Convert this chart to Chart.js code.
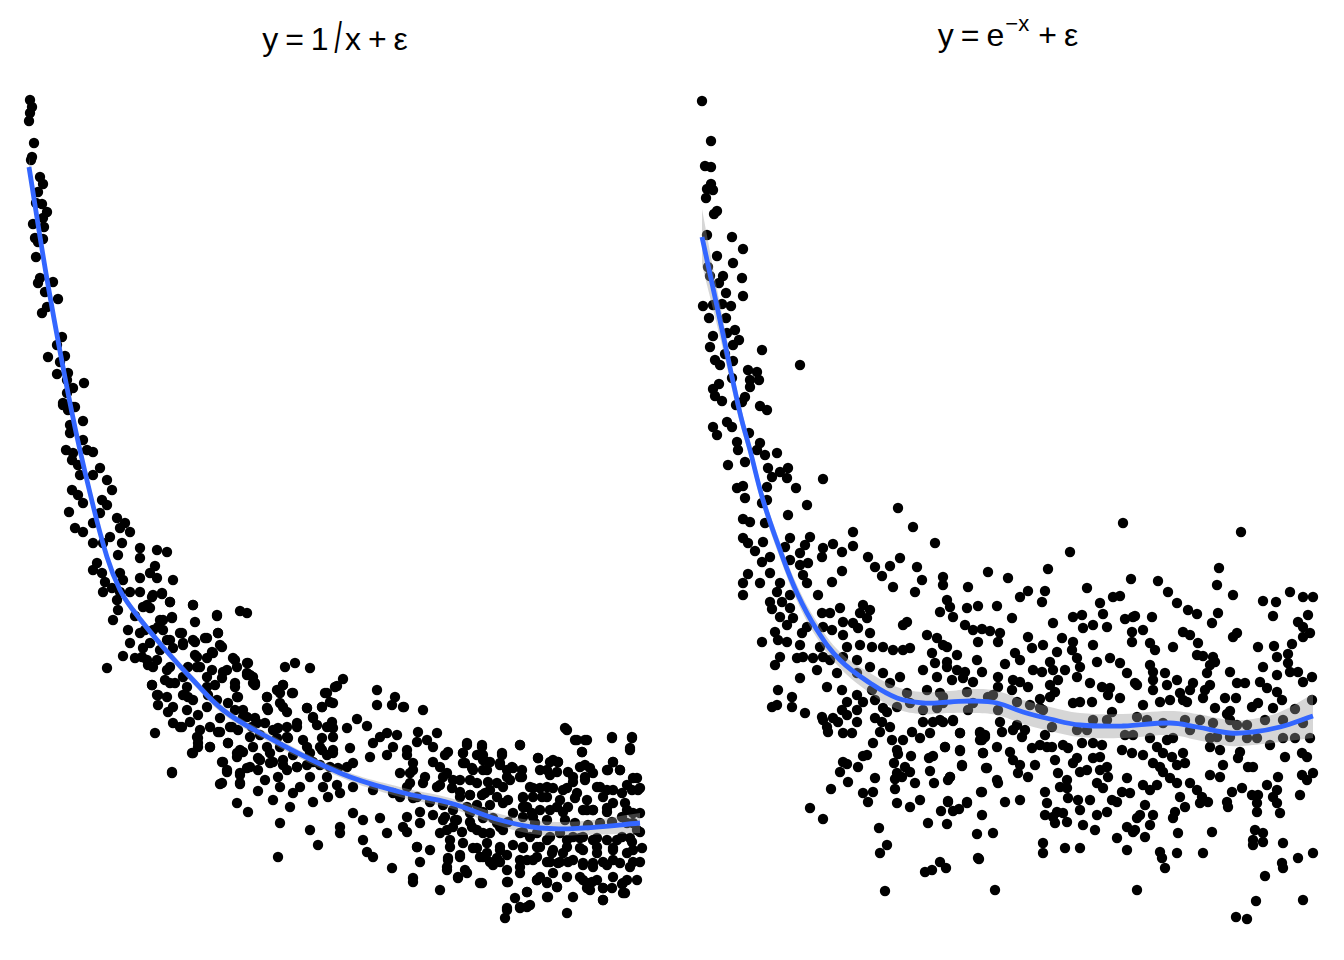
<!DOCTYPE html>
<html><head><meta charset="utf-8">
<script src="https://cdn.jsdelivr.net/npm/chart.js@4"></script>
<style>
html,body{margin:0;padding:0;background:#fff}
body{width:1344px;height:960px;position:relative;overflow:hidden;font-family:"Liberation Sans",Arial,sans-serif}
canvas{position:absolute;top:0}
.t{position:absolute;top:19px;font-size:32px;line-height:32px;white-space:nowrap;transform:translateX(-50%);color:#000;font-family:"Liberation Sans",Arial,sans-serif}
.op{margin:0 7px}
.sl{display:inline-block;font-size:44px;transform:scaleX(0.6) translateY(3px);margin:0 0 0 4px}
.sup{font-size:22px;position:relative;top:-15px;margin-left:1px;margin-right:2px}
</style></head><body>
<div class="t" style="left:335px">y<span class="op">=</span>1<span class="sl">/</span>x<span class="op">+</span>ε</div>
<div class="t" style="left:1008px">y<span class="op">=</span>e<span class="sup">−x</span><span class="op">+</span>ε</div>
<canvas id="cL" width="672" height="960" style="left:0"></canvas>
<canvas id="cR" width="672" height="960" style="left:672px"></canvas>
<script>
// Values in hundredths of a unit: x 0..6.20, y 0..8.30
const leftPoints = [
[5,825],[7,818],[5,812],[4,804],[9,782],[7,768],[6,765],[15,748],[18,741],[13,733],[11,722],[17,721],[22,713],[18,707],[8,701],[19,698],[10,687],[18,686],[13,683],[11,668],[15,647],[13,642],[28,643],[20,633],[33,626],[22,618],[17,612],[37,588],[32,580],[23,568],[40,569],[35,563],[32,551],[43,552],[42,545],[59,542],[48,537],[42,532],[38,522],[50,518],[43,515],
[38,520],[48,518],[58,504],[45,500],[45,492],[58,485],[41,475],[48,472],[62,475],[68,473],[47,465],[53,460],[75,457],[55,450],[68,450],[82,445],[47,435],[53,430],[87,435],[77,425],[58,422],[82,420],[44,413],[75,412],[92,407],[100,402],[68,402],[50,397],[58,393],[105,393],[95,397],[85,388],[68,382],[97,382],[78,382],[115,377],[132,375],[142,373],[93,370],[115,367],[72,362],[130,359],[68,355],[95,352],[77,352],[125,352],[98,345],[115,347],[148,345],[132,347],[80,343],[87,337],[78,333],[95,333],[105,333],[115,333],[137,332],[127,328],[92,325],[145,323],[168,320],[118,318],[125,317],[215,314],[222,312],[93,315],[110,309],[135,305],[147,307],[170,303],[192,309],[88,305],[103,295],[115,292],[128,295],[138,295],[155,292],[193,292],[168,285],[182,287],[105,282],[118,277],[145,285],[158,280],[197,278],[98,269],[110,267],[122,265],[128,258],[82,257],[172,268],[188,272],[208,267],[222,262],[172,258],[142,255],[158,248],[202,255],[222,250],[127,240],[145,242],[162,238],[182,238],[210,242],[228,242],[133,230],[163,228],[212,228],[242,228],
[260,258],[270,262],[285,257],[225,250],[230,242],[258,240],[318,246],[312,239],[352,235],[300,232],[268,232],[255,232],[370,228],[352,220],[367,220],[378,218],[308,222],[297,218],[282,217],[258,218],[243,215],[218,215],[288,208],[332,206],[342,199],[322,197],[308,197],[272,198],[253,197],[362,192],[355,188],[372,190],[262,188],[232,202],[222,208],[207,198],[193,193],[148,202],[130,192],[155,198],[172,188],[173,182],[185,178],[203,182],[212,172],[218,173],[168,172],[198,163],[235,165],[248,163],[242,178],[282,178],[295,178],[308,172],[325,177],[348,182],[368,178],[382,175],[362,170],[345,168],[328,162],[322,158],[288,163],[272,158],[258,160],[225,158],[215,152],[202,153],[147,152],[195,141],[215,141],[233,134],[255,138],[268,132],[248,125],[265,118],[288,123],[303,128],[315,132],[328,138],[348,135],[368,132],[385,142],[375,152],[388,155],[392,128],[212,122],[223,113],[255,102],[285,95],[293,80],[315,98],[328,112],[338,105],[355,107],[362,92],[338,85],[348,68],[342,73],[367,57],[392,78],[253,68],[388,47],[315,92],
[379,218],[398,215],[393,193],[412,192],[392,183],[402,185],[408,178],[423,173],[442,180],[438,172],[457,178],[458,170],[477,170],[495,180],[513,167],[528,165],[533,163],[540,197],[550,185],[560,185],[557,173],[587,187],[607,187],[605,175],[382,170],[388,162],[408,163],[415,158],[385,152],[400,148],[418,148],[438,162],[447,157],[463,163],[462,155],[475,160],[487,158],[482,148],[495,148],[522,155],[532,153],[555,158],[565,157],[548,148],[560,148],[588,163],[595,155],[583,155],[612,147],[602,140],[575,138],[588,135],[613,135],[552,132],[538,135],[522,138],[508,137],[498,128],[517,128],[478,138],[465,135],[457,130],[445,130],[435,128],[428,145],[412,138],[398,142],[382,138],[375,128],[388,127],[405,123],[395,113],[382,108],[378,98],[395,102],[408,110],[418,105],[432,105],[445,112],[458,113],[468,107],[488,112],[502,118],[508,108],[525,115],[538,113],[562,115],[568,115],[582,117],[602,115],[615,112],[608,102],[615,93],[415,92],[428,98],[447,98],[458,92],[475,98],[498,93],[512,92],[525,88],[542,85],[555,87],[572,87],[592,85],[605,87],[382,93],[392,78],[405,75],[425,78],[438,82],[452,77],[462,72],[475,75],[498,78],[515,78],[527,72],[542,78],[558,75],[572,72],[588,77],[608,75],[615,63],[605,58],[588,65],[578,63],[568,58],[558,62],[548,65],[535,63],[525,63],[512,68],[502,65],[495,58],[475,63],[465,63],[455,68],[435,68],[423,65],[395,63],[422,55],[440,55],[433,47],[455,42],[483,43],[512,45],[522,43],[532,38],[558,45],[567,43],[562,37],[578,37],[587,37],[597,41],[600,32],[612,45],[578,25],[388,43],[415,35],[502,33],[522,28],[490,27],[495,17],[502,18],[482,15],[480,7],[542,12],[563,40],
[128,330],[137,331],[145,323],[168,320],[192,310],[122,320],[138,305],[147,308],[133,298],[120,295],[157,292],[180,287],[193,292],[170,283],[158,282],[142,285],[125,282],[135,275],[148,277],[195,280],[187,273],[170,270],[182,267],[117,268],[123,260],[132,265],[145,258],[163,258],[175,258],[187,255],[198,253],[210,265],[212,258],[223,262],[228,248],[222,252],[230,240],[140,245],[150,242],[127,240],[182,248],[190,240],[197,247],[210,238],[213,228],[132,230],[142,228],[158,230],[168,225],[183,230],[192,225],[203,222],[242,228],[258,240],[267,232],[252,235],[302,232],[310,238],[133,220],[148,218],[162,215],[173,210],[182,218],[195,207],[210,215],[218,208],[230,207],[242,217],[255,222],[262,213],[282,217],[297,218],[143,213],[165,203],[157,198],[185,198],[175,195],[205,198],[213,195],[227,198],[240,202],[248,195],[262,198],[272,202],[288,207],[292,200],[302,198],[307,203],[305,223],[195,193],[173,187],[225,188],[235,190],[252,187],[263,187],[278,185],[297,187],[308,188],[173,178],[185,178],[203,182],[215,175],[228,178],[245,172],[255,178],[268,170],[285,172],[297,175],[302,170],[308,175],[167,172],[197,163],[212,168],[233,167],[245,162],[258,165],[262,155],[272,158],[282,160],[295,160],[305,158],[313,157],[202,155],[222,157],[233,155],[215,150],[240,145],[253,148],[197,142],[215,142],[275,138],[285,148],[302,148],[147,153],[298,138],[312,140],
[542,195],[552,185],[562,185],[587,188],[607,188],[605,177],[557,173],[495,180],[442,182],[457,180],[420,170],[438,172],[452,170],[477,172],[458,165],[465,163],[513,167],[525,163],[533,163],[440,162],[448,155],[458,155],[475,162],[482,155],[488,157],[497,155],[515,155],[525,150],[543,153],[560,160],[568,152],[582,155],[588,163],[595,155],[608,147],[615,137],[607,135],[597,132],[422,152],[435,145],[445,145],[452,142],[463,143],[472,142],[485,145],[497,148],[505,138],[515,137],[528,137],[542,137],[548,143],[560,145],[572,138],[582,135],[415,140],[427,137],[435,133],[445,130],[460,132],[472,128],[483,125],[498,127],[508,128],[522,128],[535,125],[550,127],[562,125],[578,128],[588,122],[600,122],[418,120],[428,115],[442,118],[452,120],[465,120],[478,122],[498,118],[507,112],[515,115],[532,118],[543,118],[558,115],[568,115],[582,113],[597,108],[608,112],[420,108],[430,105],[445,103],[458,107],[472,102],[483,103],[498,108],[510,102],[522,105],[540,105],[550,102],[563,100],[575,102],[587,103],[602,102],[612,95],[422,95],[437,93],[452,95],[465,92],[478,95],[495,92],[505,88],[522,85],[535,92],[548,88],[558,88],[568,85],[582,85],[597,88],[607,83],[617,77],[425,85],[448,77],[462,82],[475,78],[488,80],[498,77],[512,78],[528,75],[538,72],[555,77],[572,78],[588,75],[602,72],[423,67],[435,70],[458,68],[472,67],[482,70],[495,65],[508,65],[522,63],[533,62],[543,63],[558,60],[568,62],[582,60],[595,62],[608,63],[422,58],[433,48],[442,52],[468,60],[482,55],[495,52],[515,48],[528,52],[542,48],[555,48],[562,42],[572,45],[588,48],[602,45],[457,42],[482,43],[502,33],[512,45],[522,42],[532,38],[565,35],[578,37],[598,42],[523,28],[548,28],[578,25],[495,18],[505,20],[482,17],[598,32]
];
const leftFitX = [4,23,47,65,82,95,108,138,168,198,235,315,375,425,475,515,558,615];
const leftFitY = [758,640,512,432,368,335,315,278,245,215,192,152,133,122,105,97,97,102];
const leftBand = [10,6,4,4,4,4,4,4,4,4,4,4,5,5,6,7,7,10];

const rightPoints = [
[2,824],[11,784],[5,759],[11,758],[11,741],[7,736],[13,735],[6,727],[17,714],[14,711],[7,690],[32,688],[43,676],[17,669],[33,662],[8,658],[10,649],[23,649],[19,642],[42,647],[26,632],[43,629],[3,619],[13,620],[22,621],[31,619],[9,607],[26,607],[27,592],[35,595],[13,589],[39,585],[33,580],[10,578],[62,575],[25,571],[100,560],[15,565],[20,560],[33,564],[48,555],[57,553],[59,545],[50,545],[32,547],[50,538],[19,541],[13,536],[15,529],[22,524],[45,528],[36,520],[42,523],[60,519],[67,515],
[13,498],[27,503],[32,498],[17,490],[49,492],[37,483],[60,482],[38,475],[57,475],[65,470],[77,472],[45,463],[28,460],[68,457],[88,457],[80,453],[72,448],[87,447],[123,446],[37,437],[43,439],[67,438],[96,437],[45,427],[67,425],[107,420],[62,422],[88,410],[198,417],[43,406],[50,403],[65,402],[153,393],[213,398],[43,387],[48,382],[63,383],[55,374],[90,387],[85,378],[110,388],[105,380],[100,372],[123,377],[133,381],[142,373],[153,379],[235,382],[62,363],[70,368],[90,365],[100,360],[108,362],[122,368],[168,368],[175,358],[200,367],[190,359],[70,352],[48,351],[43,342],[60,342],[80,342],[103,350],[107,342],[142,354],[182,349],[217,358],[222,345],[132,343],[193,338],[215,333],[43,330],[77,333],[90,330],[118,330],[70,323],[82,323],[90,317],[72,316],[140,317],[163,320],[170,315],[160,312],[167,307],[243,340],[247,325],[240,313],[207,303],[203,300],[122,312],[130,312],[80,308],[93,307],[87,300],[107,298],[123,298],[143,303],[153,302],[132,295],[158,297],[143,290],[170,292],[62,283],[75,293],[78,285],[87,283],[102,292],[100,280],[120,278],[147,278],[160,280],[172,278],[183,278],[193,275],[203,275],[210,277],[227,290],[237,287],[247,278],[232,272],[235,262],[247,263],[223,255],[237,248],[200,248],[190,242],[183,252],[170,258],[157,265],[143,268],[130,265],[123,268],[103,268],[97,267],[113,267],[80,268],[75,260],[117,255],[100,247],[137,252],[157,252],[127,238],[142,235],[157,230],[172,235],[175,225],[183,217],[163,223],[147,223],[142,215],[133,207],[122,208],[105,212],[92,228],[92,218],[78,235],[77,220],[72,218],[207,232],[227,235],[243,228],[223,215],[197,218],[210,222],[237,217],
[123,205],[127,198],[128,193],[143,192],[152,192],[138,203],[147,210],[157,215],[157,203],[175,207],[182,203],[187,213],[180,193],[190,198],[192,185],[173,182],[203,185],[197,175],[198,171],[212,193],[220,187],[230,192],[223,203],[233,203],[243,203],[253,204],[260,192],[280,192],[285,190],[280,185],[245,178],[260,174],[283,172],[233,169],[229,167],[211,169],[194,162],[205,158],[210,153],[197,152],[202,148],[195,146],[215,142],[230,154],[234,142],[250,148],[248,145],[262,159],[286,157],[175,147],[158,158],[143,163],[147,161],[163,169],[167,170],[140,153],[148,143],[131,136],[163,132],[173,133],[168,123],[195,136],[197,122],[210,118],[220,125],[241,114],[248,124],[253,114],[259,116],[267,122],[281,133],[282,110],[228,102],[247,101],[277,91],[110,117],[123,106],[179,97],[187,80],[180,72],[240,63],[246,57],[232,55],[225,53],[279,66],[185,34],
[423,402],[370,373],[348,356],[288,353],[243,348],[308,347],[431,346],[268,338],[328,334],[345,334],[387,337],[320,328],[342,323],[413,328],[400,322],[420,329],[250,318],[267,317],[278,319],[297,319],[253,308],[312,307],[353,302],[373,308],[382,310],[403,311],[425,306],[433,308],[265,300],[273,295],[282,296],[290,294],[300,292],[393,300],[383,297],[407,298],[298,283],[328,288],[362,287],[278,283],[243,280],[373,283],[432,293],[432,283],[343,280],[332,277],[393,280],[357,273],[372,275],[257,270],[277,265],[315,272],[320,265],[305,261],[350,263],[377,267],[397,263],[410,267],[420,262],[247,258],[257,255],[265,253],[282,253],[333,255],[342,253],[353,255],[365,255],[380,258],[377,248],[390,242],[402,238],[410,237],[408,230],[427,252],[435,242],[420,227],[252,245],[263,247],[273,243],[298,248],[313,245],[320,243],[328,238],[312,235],[298,238],[350,240],[358,245],[355,233],[350,228],[340,226],[373,222],[380,223],[392,223],[240,232],[243,222],[267,233],[268,215],[273,222],[288,228],[293,230],[298,215],[317,223],[330,220],[340,217],[343,215],[352,198],[377,195],[393,205],[407,205],[412,213],[387,195],[425,190],[433,190],[240,205],[253,205],[300,203],[302,193],[317,200],[322,188],[325,195],[313,195],[280,193],[285,188],[260,192],[282,185],[245,178],[260,175],[283,172],[297,178],[310,173],[332,177],[340,180],[345,190],[347,178],[352,178],[363,180],[368,177],[382,182],[393,182],[402,180],[422,175],[432,172],[400,168],[393,167],[377,167],[373,162],[355,165],[320,160],[313,165],[287,157],[262,160],[250,148],[328,148],[318,152],[335,160],[298,142],[297,145],[358,152],[367,145],[380,153],[387,155],[400,155],[407,158],[408,148],[427,147],[397,142],[403,137],[360,138],[367,137],[345,133],[282,133],[422,133],[430,132],[248,123],[267,123],[305,123],[320,125],[347,122],[368,127],[378,125],[390,125],[412,125],[417,123],[357,113],[345,110],[353,108],[363,112],[380,115],[397,110],[407,113],[355,102],[367,103],[383,100],[395,95],[293,92],[417,87],[427,98],[433,93],[343,82],[343,72],[365,77],[380,77],[427,75],[278,67],[295,35],[437,35],
[541,393],[519,357],[458,344],[517,340],[468,333],[533,330],[590,333],[563,324],[576,323],[603,328],[613,328],[477,322],[488,315],[497,311],[518,312],[435,309],[452,308],[573,309],[608,310],[512,302],[443,295],[483,293],[490,290],[537,292],[533,288],[598,303],[603,298],[610,292],[603,288],[450,282],[455,275],[473,278],[498,282],[558,278],[574,279],[592,281],[577,268],[588,271],[497,270],[503,269],[513,268],[450,260],[453,253],[510,260],[515,263],[507,252],[530,253],[563,258],[588,262],[590,253],[598,253],[577,250],[465,252],[437,240],[453,245],[467,240],[477,245],[493,242],[510,240],[537,242],[545,242],[560,243],[567,237],[577,233],[603,243],[612,248],[453,235],[480,232],[490,235],[505,235],[487,223],[460,223],[470,225],[483,225],[503,227],[525,227],[536,227],[582,225],[558,222],[552,218],[595,216],[443,220],[515,217],[530,214],[527,211],[573,217],[612,225],[437,208],[447,205],[463,202],[485,205],[500,205],[513,202],[530,205],[537,200],[547,200],[565,205],[583,205],[603,202],[450,187],[467,185],[473,187],[490,195],[510,187],[517,188],[530,188],[547,187],[557,187],[570,180],[583,187],[595,187],[610,187],[443,170],[457,178],[463,172],[472,168],[483,172],[485,162],[510,178],[520,175],[540,173],[538,167],[548,158],[553,158],[585,168],[602,172],[607,168],[523,160],[453,162],[460,158],[463,153],[477,160],[470,147],[477,142],[490,142],[510,150],[520,148],[602,150],[613,152],[607,145],[578,148],[567,140],[577,135],[443,140],[450,135],[457,140],[480,128],[497,135],[502,128],[508,123],[500,122],[532,133],[542,137],[552,130],[557,122],[558,130],[573,128],[577,122],[600,130],[527,123],[528,118],[485,118],[445,120],[437,107],[440,110],[453,110],[475,113],[473,107],[557,113],[580,112],[450,100],[435,95],[445,88],[478,92],[512,93],[555,95],[563,92],[553,85],[563,83],[553,80],[583,82],[460,73],[462,67],[465,57],[477,72],[503,72],[582,62],[583,57],[598,67],[613,72],[565,49],[556,24],[603,25],[536,8],[547,6]
];
const rightFitX = [2,21,40,50,63,80,97,117,140,170,197,223,250,273,297,323,350,380,423,470,497,530,553,580,613];
const rightFitY = [688,600,512,475,425,375,332,295,265,242,227,222,223,224,222,213,206,200,199,202,198,192,193,198,209];
const rightBand = [28,16,10,8,8,8,8,8,8,10,11,11,11,12,12,12,12,12,12,12,13,13,13,15,22];

function makeChart(id, pts, fx, fy, band, padL, padR) {
  const fit = fx.map((x, i) => ({x: x, y: fy[i]}));
  const up = fx.map((x, i) => ({x: x, y: fy[i] + band[i]}));
  const lo = fx.map((x, i) => ({x: x, y: fy[i] - band[i]}));
  new Chart(document.getElementById(id), {
    type: 'scatter',
    data: {datasets: [
      {data: fit, showLine: true, borderColor: '#3366FF', borderWidth: 4.8, pointRadius: 0, radius: 0, tension: 0.4, order: 1, clip: false, fill: false},
      {data: up, showLine: true, borderWidth: 0, borderColor: 'rgba(0,0,0,0)', pointRadius: 0, radius: 0, tension: 0.4, order: 2, fill: '+1', backgroundColor: 'rgba(153,153,153,0.4)'},
      {data: lo, showLine: true, borderWidth: 0, borderColor: 'rgba(0,0,0,0)', pointRadius: 0, radius: 0, tension: 0.4, order: 2, fill: false},
      {data: pts.map(p => ({x: p[0], y: p[1]})), pointRadius: 5.2, radius: 5.2, pointStyle: 'circle', pointBackgroundColor: '#000', backgroundColor: '#000', pointBorderWidth: 0, borderWidth: 0, order: 3, clip: false}
    ]},
    options: {
      responsive: false, animation: false, events: [], devicePixelRatio: 1,
      elements: {point: {radius: 5.2, hoverRadius: 5.2, borderWidth: 0}},
      layout: {padding: {left: padL, right: padR, top: 95, bottom: 35}},
      plugins: {legend: {display: false}, tooltip: {enabled: false}, title: {display: false}},
      scales: {
        x: {type: 'linear', display: false, min: 0, max: 620},
        y: {type: 'linear', display: false, min: 0, max: 830}
      }
    }
  });
}
makeChart('cL', leftPoints, leftFitX, leftFitY, leftBand, 25, 27);
makeChart('cR', rightPoints, rightFitX, rightFitY, rightBand, 28, 24);
</script>
</body></html>
